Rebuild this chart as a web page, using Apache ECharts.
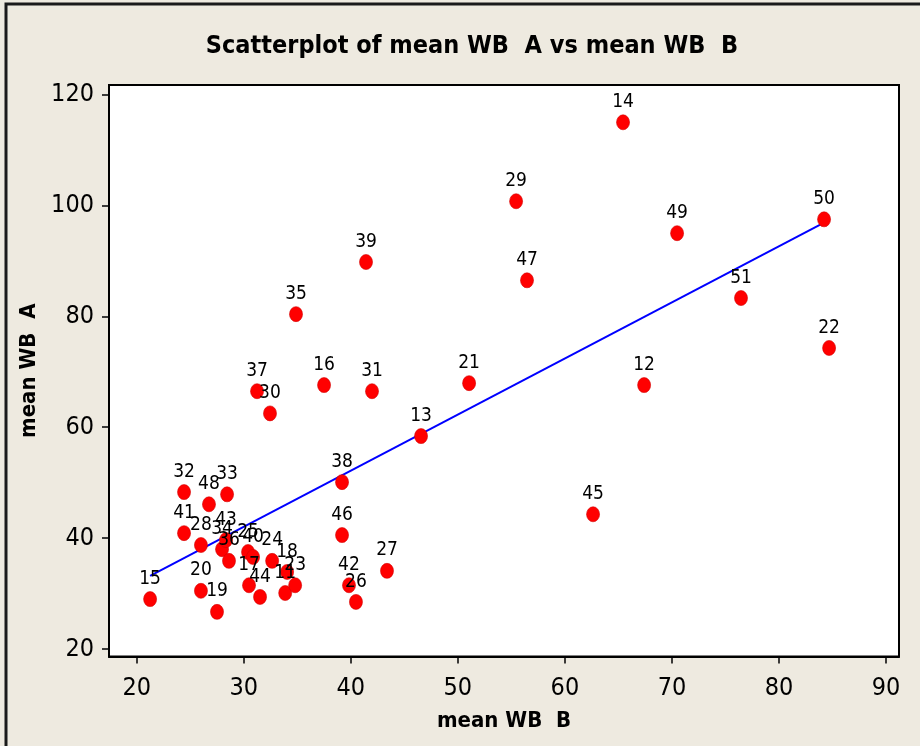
<!DOCTYPE html>
<html>
<head>
<meta charset="utf-8">
<script src="https://cdn.jsdelivr.net/npm/echarts@6/dist/echarts.min.js"></script>
<style>
  html, body { margin: 0; padding: 0; background: #EEEAE0; }
  #chart { width: 920px; height: 746px; }
</style>
</head>
<body>
<div id="chart"></div>
<script>
// Observation numbers shown next to each point
const obsIds = [11, 12, 13, 14, 15, 16, 17, 18, 19, 20,
                21, 22, 23, 24, 25, 26, 27, 28, 29, 30,
                31, 32, 33, 34, 35, 36, 37, 38, 39, 40,
                41, 42, 43, 44, 45, 46, 47, 48, 49, 50, 51];
// mean WB B (horizontal)
const meanWbB = [33.87, 67.40, 46.56, 65.43, 21.25, 37.50, 30.49, 34.05, 27.50, 26.00,
                 51.05, 84.68, 34.80, 32.65, 30.40, 40.48, 43.38, 26.00, 55.44, 32.45,
                 41.98, 24.42, 28.44, 27.97, 34.88, 28.62, 31.24, 39.18, 41.42, 30.87,
                 24.42, 39.83, 28.34, 31.52, 62.63, 39.18, 56.46, 26.75, 70.48, 84.21, 76.45];
// mean WB A (vertical)
const meanWbA = [30.10, 67.60, 58.40, 115.00, 29.00, 67.60, 31.50, 33.90, 26.70, 30.50,
                 67.95, 74.30, 31.50, 35.90, 37.50, 28.50, 34.10, 38.75, 100.76, 62.50,
                 66.50, 48.30, 47.90, 38.00, 80.40, 35.90, 66.50, 50.10, 89.80, 36.60,
                 40.90, 31.50, 39.65, 29.40, 44.30, 40.55, 86.50, 46.10, 95.00, 97.50, 83.30];
// Fitted line end points
const fitB = [21.25, 84.30];
const fitA = [33.20, 97.00];
// Axis tick values
const xTickValues = [20, 30, 40, 50, 60, 70, 80, 90];
const yTickValues = [20, 40, 60, 80, 100, 120];

const FONT = "'Liberation Sans Narrow', 'DejaVu Sans Condensed', sans-serif";

const points = obsIds.map((id, i) => ({ value: [meanWbB[i], meanWbA[i]], name: String(id) }));
const fitData = fitB.map((b, i) => [b, fitA[i]]);

const chart = echarts.init(document.getElementById('chart'), null, { renderer: 'canvas' });

const axisCommon = {
  type: 'value',
  splitLine: { show: false },
  axisLine: { show: true, onZero: false, lineStyle: { color: '#000', width: 2 } },
  nameLocation: 'middle',
  nameTextStyle: { fontFamily: FONT, fontWeight: 'bold', fontSize: 22, color: '#000' }
};

chart.setOption({
  backgroundColor: '#EEEAE0',
  animation: false,
  title: {
    text: 'Scatterplot of mean WB  A vs mean WB  B',
    left: 467,
    top: 29,
    textAlign: 'center',
    textStyle: { fontFamily: FONT, fontWeight: 'bold', fontSize: 25, color: '#000' }
  },
  graphic: [{
    type: 'rect',
    shape: { x: 6, y: 4, width: 940, height: 770 },
    style: { fill: 'none', stroke: '#1a1a1a', lineWidth: 3 },
    silent: true
  }],
  grid: {
    left: 109, top: 85, right: 21, bottom: 89.5,
    show: true,
    backgroundColor: '#ffffff',
    borderColor: '#000',
    borderWidth: 2
  },
  xAxis: Object.assign({}, axisCommon, {
    min: 17.41, max: 91.21,
    name: 'mean WB  B',
    nameGap: 54,
    axisTick: { show: true, customValues: xTickValues, length: 7, lineStyle: { color: '#000', width: 1.5 } },
    axisLabel: { customValues: xTickValues, margin: 19, fontFamily: FONT, fontSize: 25, color: '#000' }
  }),
  yAxis: Object.assign({}, axisCommon, {
    min: 18.65, max: 121.73,
    name: 'mean WB  A',
    nameGap: 48,
    axisTick: { show: true, customValues: yTickValues, length: 7, lineStyle: { color: '#000', width: 1.5 } },
    axisLabel: { customValues: yTickValues, margin: 15, fontFamily: FONT, fontSize: 25, color: '#000' }
  }),
  series: [
    {
      type: 'line',
      data: fitData,
      symbol: 'none',
      z: 1,
      lineStyle: { color: '#0000ff', width: 2 }
    },
    {
      type: 'scatter',
      data: points,
      z: 3,
      symbol: 'circle',
      symbolSize: [13, 15],
      itemStyle: { color: '#ff0000', opacity: 1, borderColor: '#d40000', borderWidth: 0.6 },
      label: {
        show: true,
        position: 'top',
        distance: 3,
        formatter: p => p.name,
        fontFamily: FONT,
        fontSize: 19,
        color: '#000'
      }
    }
  ]
});
</script>
</body>
</html>
